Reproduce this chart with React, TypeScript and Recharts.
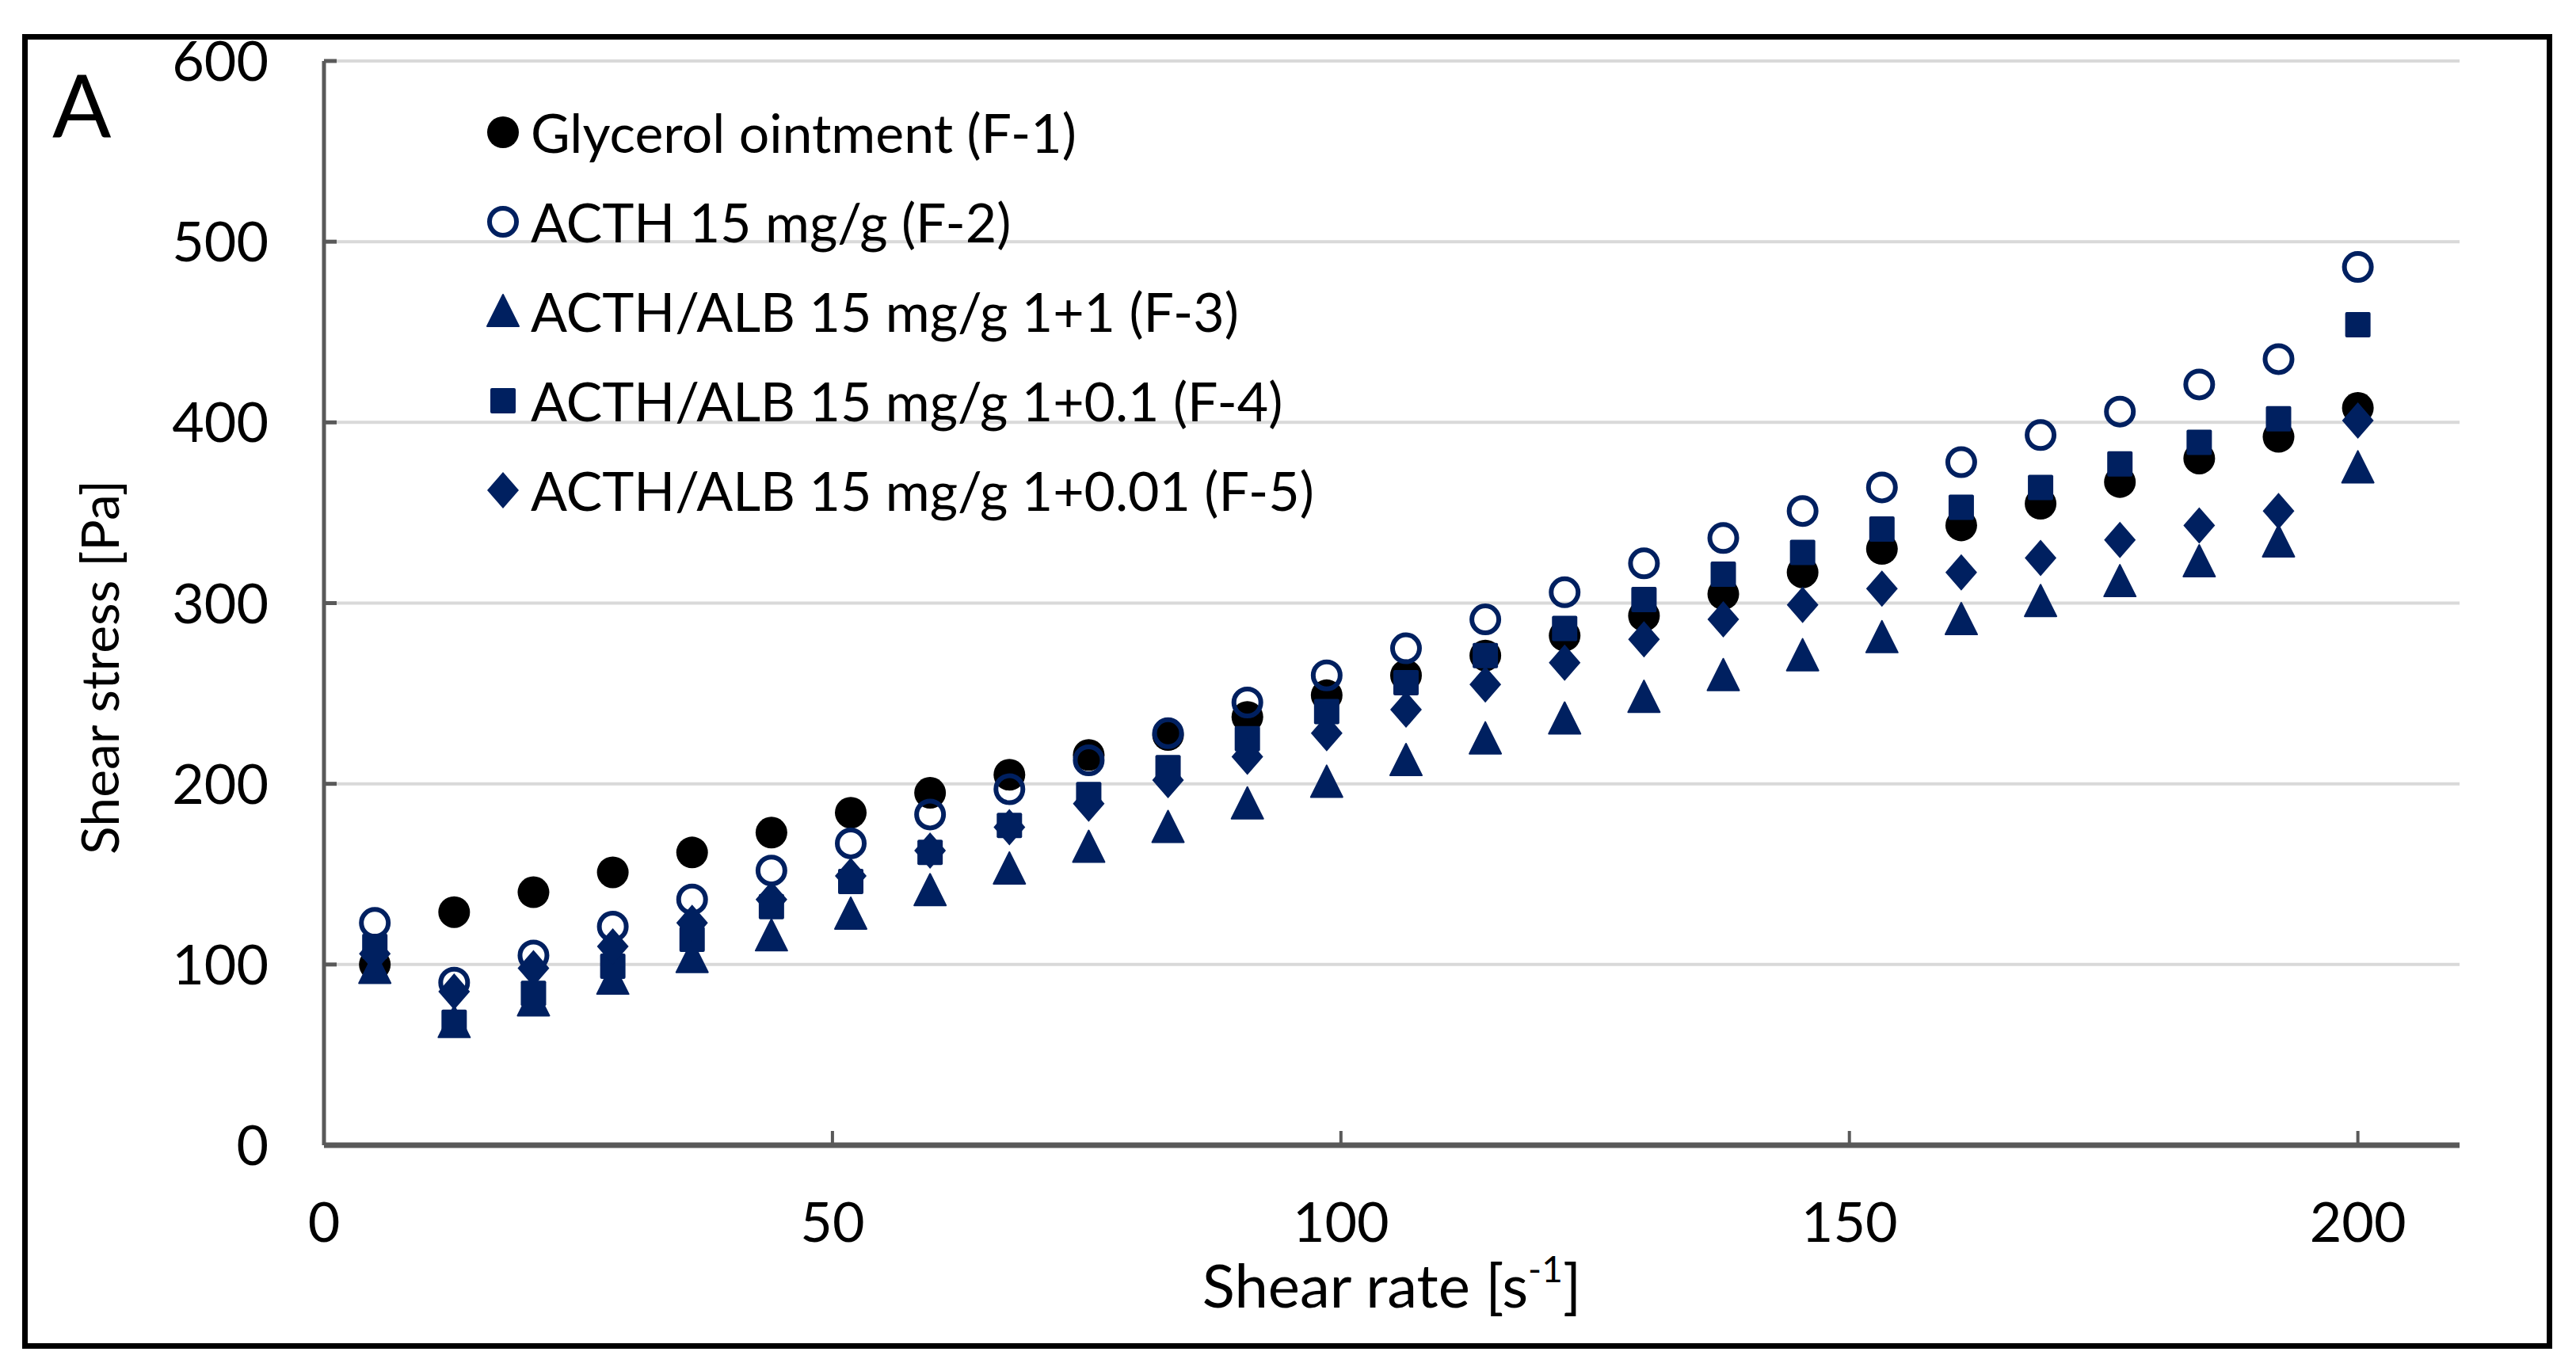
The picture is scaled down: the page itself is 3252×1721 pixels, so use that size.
import React from 'react';
import { ScatterChart, Scatter, XAxis, YAxis, CartesianGrid, Legend } from 'recharts';

// shear rate [1/s]
const shearRate = [5, 12.8, 20.6, 28.4, 36.2, 44, 51.8, 59.6, 67.4, 75.2, 83, 90.8, 98.6, 106.4, 114.2, 122, 129.8, 137.6, 145.4, 153.2, 161, 168.8, 176.6, 184.4, 192.2, 200];

// shear stress [Pa] per formulation
const f1Glycerol = [100, 129, 140, 151, 162, 173, 184, 195, 205, 216, 227, 237, 249, 260, 271, 282, 293, 305, 317, 330, 343, 355, 367, 380, 392, 408];
const f2Acth = [123, 90, 105, 121, 136, 152, 167, 183, 197, 213, 228, 245, 260, 275, 291, 306, 322, 336, 351, 364, 378, 393, 406, 421, 435, 486];
const f3AlbOne = [98, 68, 80, 92, 104, 116, 128, 141, 153, 165, 176, 189, 201, 213, 225, 236, 248, 260, 271, 281, 291, 301, 312, 323, 334, 375];
const f4AlbTenth = [110, 68, 84, 99, 114, 132, 146, 162, 177, 194, 209, 225, 240, 256, 271, 286, 302, 316, 328, 341, 353, 364, 377, 389, 402, 454];
const f5AlbHundredth = [106, 85, 98, 110, 123, 136, 149, 163, 176, 189, 202, 215, 228, 241, 255, 267, 280, 291, 299, 308, 317, 325, 335, 343, 351, 401];

const seriesNames = [
  'Glycerol ointment (F-1)',
  'ACTH 15 mg/g (F-2)',
  'ACTH/ALB 15 mg/g 1+1 (F-3)',
  'ACTH/ALB 15 mg/g 1+0.1 (F-4)',
  'ACTH/ALB 15 mg/g 1+0.01 (F-5)',
];

const xTicks = [0, 50, 100, 150, 200];
const yTicks = [0, 100, 200, 300, 400, 500, 600];

const NAVY = '#002060';
const AXIS = '#595959';
const FONT = 'Lato, "Open Sans", sans-serif';
const FS = 68;

const toPoints = (ys: number[]) => shearRate.map((x, i) => ({ x, y: ys[i] }));

// marker drawers
const filledCircle = (cx: number, cy: number) => <circle cx={cx} cy={cy} r={20} fill="#000" />;
const openCircle = (cx: number, cy: number) => (
  <circle cx={cx} cy={cy} r={17} fill="none" stroke={NAVY} strokeWidth={6} />
);
const triangle = (cx: number, cy: number) => (
  <polygon points={`${cx},${cy - 21} ${cx + 20},${cy + 19} ${cx - 20},${cy + 19}`} fill={NAVY} strokeLinejoin="round" stroke={NAVY} strokeWidth={2} />
);
const square = (cx: number, cy: number) => <rect x={cx - 16} y={cy - 16} width={32} height={32} rx={2} fill={NAVY} />;
const diamond = (cx: number, cy: number) => (
  <polygon points={`${cx},${cy - 23} ${cx + 20},${cy} ${cx},${cy + 23} ${cx - 20},${cy}`} fill={NAVY} />
);

const markers = [filledCircle, openCircle, triangle, square, diamond];
const seriesData = [f1Glycerol, f2Acth, f3AlbOne, f4AlbTenth, f5AlbHundredth];

const YTick = (props: any) => {
  const { x, y, payload } = props;
  return (
    <g>
      <line x1={x} x2={x + 16} y1={y} y2={y} stroke={AXIS} strokeWidth={5} />
      <text x={x - 70} y={y} dy={25} textAnchor="end" fontFamily={FONT} fontSize={FS + 2} fill="#000">
        {payload.value}
      </text>
    </g>
  );
};

const XTick = (props: any) => {
  const { x, y, payload } = props;
  return (
    <g>
      {payload.value !== 0 && <line x1={x} x2={x} y1={y} y2={y - 18} stroke={AXIS} strokeWidth={4} />}
      <text x={x} y={y + 122} textAnchor="middle" fontFamily={FONT} fontSize={FS + 2} fill="#000">
        {payload.value}
      </text>
    </g>
  );
};

const XTitle = (props: any) => {
  const { viewBox } = props;
  const cx = viewBox.x + viewBox.width / 2;
  return (
    <text x={cx} y={viewBox.y + 205} textAnchor="middle" fontFamily={FONT} fontSize={76} fill="#000">
      Shear rate [s
      <tspan fontSize={46} dy={-32}>-1</tspan>
      <tspan dy={32}>]</tspan>
    </text>
  );
};

const YTitle = (props: any) => {
  const { viewBox } = props;
  const cx = viewBox.x - 85;
  const cy = viewBox.y + viewBox.height / 2 + 81;
  return (
    <text
      x={cx}
      y={cy}
      transform={`rotate(-90, ${cx}, ${cy})`}
      textAnchor="middle"
      dominantBaseline="central"
      fontFamily={FONT}
      fontSize={66}
      fill="#000"
    >
      Shear stress [Pa]
    </text>
  );
};

const LegendBox = () => (
  <div style={{ fontFamily: FONT, fontSize: FS, color: '#000' }}>
    {seriesNames.map((name, i) => (
      <div key={name} style={{ display: 'flex', alignItems: 'center', height: 113, whiteSpace: 'nowrap' }}>
        <svg width={50} height={50}>{markers[i](25, 25)}</svg>
        <span style={{ marginLeft: 10 }}>{name}</span>
      </div>
    ))}
  </div>
);

const App = () => {
  return (
    <div style={{ position: 'absolute', left: 0, top: 0, width: 3252, height: 1721, background: '#fff' }}>
      <div
        style={{
          position: 'absolute',
          left: 28,
          top: 43,
          width: 3194,
          height: 1660,
          border: '7px solid #000',
          boxSizing: 'border-box',
        }}
      />
      <div style={{ position: 'absolute', left: 66, top: 76, fontFamily: FONT, fontSize: 110, lineHeight: 1 }}>A</div>
      <div style={{ position: 'absolute', left: 0, top: 0 }}>
        <ScatterChart width={3252} height={1721} margin={{ top: 77, right: 147, bottom: 125, left: 209 }}>
          <CartesianGrid vertical={false} stroke="#d9d9d9" strokeWidth={4} />
          <XAxis
            type="number"
            dataKey="x"
            domain={[0, 210]}
            ticks={xTicks}
            allowDataOverflow
            height={150}
            tickSize={0}
            tickMargin={0}
            tickLine={false}
            tick={<XTick />}
            axisLine={{ stroke: AXIS, strokeWidth: 7 }}
            label={<XTitle />}
          />
          <YAxis
            type="number"
            dataKey="y"
            domain={[0, 600]}
            ticks={yTicks}
            width={200}
            tickSize={0}
            tickMargin={0}
            tickLine={false}
            tick={<YTick />}
            axisLine={{ stroke: AXIS, strokeWidth: 5 }}
            label={<YTitle />}
          />
          <Legend
            layout="vertical"
            align="center"
            verticalAlign="middle"
            content={<LegendBox />}
            wrapperStyle={{ left: 610, top: 110, width: 'auto', height: 'auto' }}
          />
          {seriesData.map((ys, i) => (
            <Scatter
              key={seriesNames[i]}
              name={seriesNames[i]}
              data={toPoints(ys)}
              isAnimationActive={false}
              shape={(p: any) => markers[i](p.cx, p.cy)}
            />
          ))}
        </ScatterChart>
      </div>
    </div>
  );
};

export default App;
